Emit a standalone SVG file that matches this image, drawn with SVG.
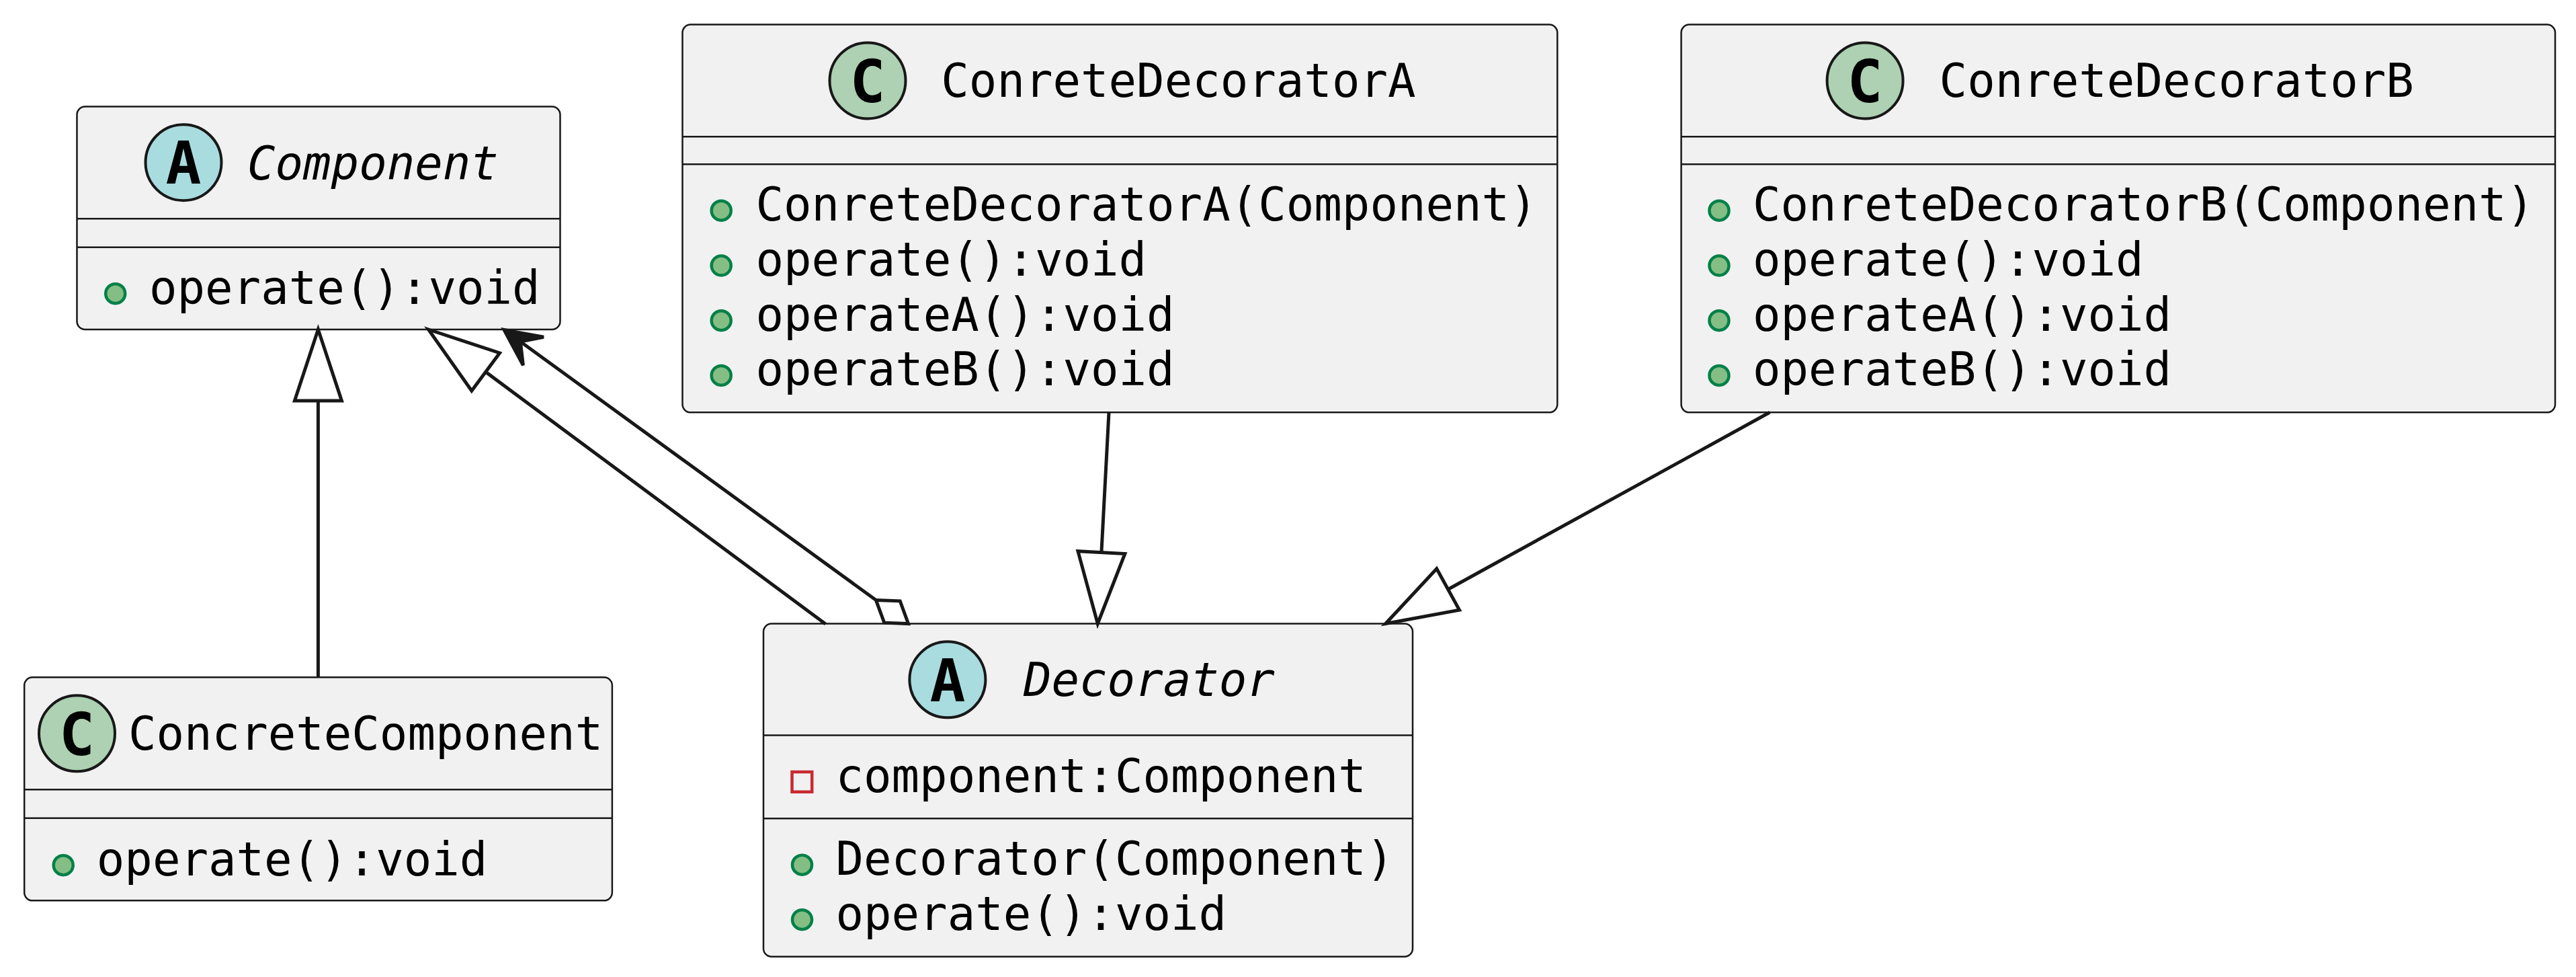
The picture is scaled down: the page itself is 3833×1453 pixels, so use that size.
<svg xmlns="http://www.w3.org/2000/svg" width="3833" height="1453" viewBox="0 0 3833 1453">
<style>
.box{fill:#F1F1F1;stroke:#181818;stroke-width:2.5}
.div{stroke:#181818;stroke-width:2.5}
.cA{fill:#A9DCDF;stroke:#181818;stroke-width:4}
.cC{fill:#ADD1B2;stroke:#181818;stroke-width:4}
.ch{font-family:"DejaVu Sans Mono",monospace;font-weight:bold;font-size:88px;fill:#000;text-anchor:middle}
.t{font-family:"DejaVu Sans Mono",monospace;font-size:69px;fill:#000}
.it{font-style:italic}
.pub{fill:#84BE84;stroke:#038048;stroke-width:4.5}
.priv{fill:none;stroke:#C82930;stroke-width:4.5}
.ln{fill:none;stroke:#181818;stroke-width:5}
.tri{fill:none;stroke:#181818;stroke-width:5;stroke-linejoin:miter}
.arr{fill:#181818;stroke:#181818;stroke-width:5;stroke-linejoin:miter}
</style>
<rect width="3833" height="1453" fill="#FFFFFF"/>
<g id="Component">
<rect class="box" x="114.5" y="158.5" width="719" height="331.5" rx="12"/>
<circle class="cA" cx="273" cy="241.7" r="56.5"/>
<text class="ch" x="273" y="273">A</text>
<text class="t it" x="368" y="266.5">Component</text>
<line class="div" x1="114.5" y1="325.3" x2="833.5" y2="325.3"/>
<line class="div" x1="114.5" y1="367.7" x2="833.5" y2="367.7"/>
<circle class="pub" cx="171.7" cy="436.7" r="14.5"/>
<text class="t" x="222" y="451.7">operate():void</text>
</g>
<g id="ConreteDecoratorA">
<rect class="box" x="1015.5" y="36.6" width="1301.8" height="576.7" rx="12"/>
<circle class="cC" cx="1291" cy="119.9" r="56.5"/>
<text class="ch" x="1291" y="151.5">C</text>
<text class="t" x="1400.3" y="143.6">ConreteDecoratorA</text>
<line class="div" x1="1015.5" y1="203.3" x2="2317.3" y2="203.3"/>
<line class="div" x1="1015.5" y1="244.2" x2="2317.3" y2="244.2"/>
<circle class="pub" cx="1073.2" cy="313.2" r="14.5"/>
<text class="t" x="1124.5" y="328.2">ConreteDecoratorA(Component)</text>
<circle class="pub" cx="1073.2" cy="395" r="14.5"/>
<text class="t" x="1124.5" y="410">operate():void</text>
<circle class="pub" cx="1073.2" cy="476.7" r="14.5"/>
<text class="t" x="1124.5" y="491.7">operateA():void</text>
<circle class="pub" cx="1073.2" cy="558.4" r="14.5"/>
<text class="t" x="1124.5" y="573.4">operateB():void</text>
</g>
<g id="ConreteDecoratorB">
<rect class="box" x="2501.6" y="36.6" width="1300.4" height="576.7" rx="12"/>
<circle class="cC" cx="2775.1" cy="119.9" r="56.5"/>
<text class="ch" x="2775.1" y="151.5">C</text>
<text class="t" x="2885.6" y="143.6">ConreteDecoratorB</text>
<line class="div" x1="2501.6" y1="203.3" x2="3802" y2="203.3"/>
<line class="div" x1="2501.6" y1="244.2" x2="3802" y2="244.2"/>
<circle class="pub" cx="2558" cy="313.2" r="14.5"/>
<text class="t" x="2608" y="328.2">ConreteDecoratorB(Component)</text>
<circle class="pub" cx="2558" cy="395" r="14.5"/>
<text class="t" x="2608" y="410">operate():void</text>
<circle class="pub" cx="2558" cy="476.7" r="14.5"/>
<text class="t" x="2608" y="491.7">operateA():void</text>
<circle class="pub" cx="2558" cy="558.4" r="14.5"/>
<text class="t" x="2608" y="573.4">operateB():void</text>
</g>
<g id="ConcreteComponent">
<rect class="box" x="36.2" y="1007.3" width="874.7" height="332" rx="12"/>
<circle class="cC" cx="114.5" cy="1090.8" r="56.5"/>
<text class="ch" x="114.5" y="1122.5">C</text>
<text class="t" x="191" y="1115">ConcreteComponent</text>
<line class="div" x1="36.2" y1="1174.3" x2="910.9" y2="1174.3"/>
<line class="div" x1="36.2" y1="1216.7" x2="910.9" y2="1216.7"/>
<circle class="pub" cx="94.2" cy="1286.7" r="14.5"/>
<text class="t" x="143.8" y="1301.7">operate():void</text>
</g>
<g id="Decorator">
<rect class="box" x="1136" y="927.5" width="966" height="495.2" rx="12"/>
<circle class="cA" cx="1409.9" cy="1010.8" r="56.5"/>
<text class="ch" x="1409.9" y="1042.5">A</text>
<text class="t it" x="1523" y="1034.5">Decorator</text>
<line class="div" x1="1136" y1="1093.5" x2="2102" y2="1093.5"/>
<rect class="priv" x="1178.5" y="1148" width="29.7" height="29.7"/>
<text class="t" x="1243.5" y="1178.2">component:Component</text>
<line class="div" x1="1136" y1="1217.2" x2="2102" y2="1217.2"/>
<circle class="pub" cx="1193.5" cy="1286.2" r="14.5"/>
<text class="t" x="1243.5" y="1301.2">Decorator(Component)</text>
<circle class="pub" cx="1193.5" cy="1367.7" r="14.5"/>
<text class="t" x="1243.5" y="1382.7">operate():void</text>
</g>
<g id="connectors">
<line class="ln" x1="473.4" y1="596" x2="473.4" y2="1007.3"/>
<polygon class="tri" points="473.4,490 508.4,596 438.4,596"/>
<line class="ln" x1="722.66" y1="553.12" x2="1228.4" y2="928"/>
<polygon class="tri" points="637.5,490 743.5,525 701.82,581.24"/>
<line class="ln" x1="774.3" y1="508.1" x2="1303.46" y2="892.56"/>
<polygon class="arr" points="750,490.5 809,501.3 774.3,508.1 778.4,543.3"/>
<polygon class="tri" fill="none" points="1303.46,892.56 1339.26,893.83 1351.5,927.5 1315.74,926.17"/>
<line class="ln" x1="1650" y1="613.3" x2="1638.92" y2="821.65"/>
<polygon class="tri" points="1633.3,927.5 1673.87,823.51 1603.97,819.79"/>
<line class="ln" x1="2633.3" y1="613.3" x2="2154.59" y2="876.44"/>
<polygon class="tri" points="2061.7,927.5 2171.45,907.11 2137.73,845.77"/>
</g>
</svg>
